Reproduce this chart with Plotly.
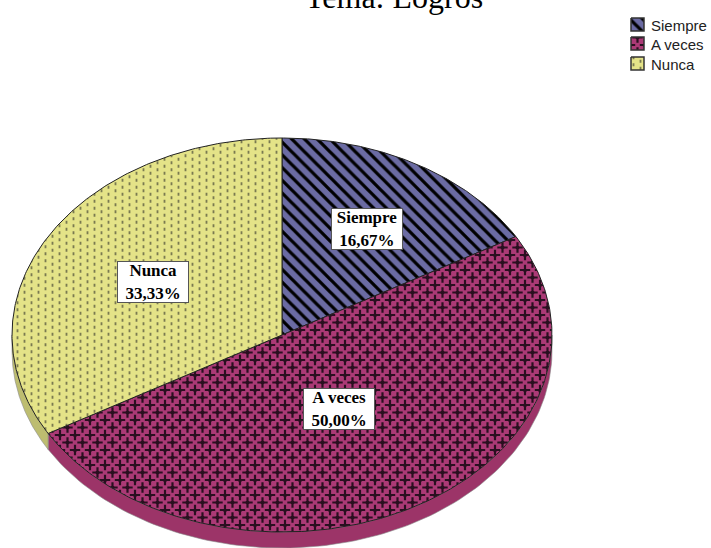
import numpy as np
import plotly.graph_objects as go

chart_title = "Tema: Logros"
categories = ["Siempre", "A veces", "Nunca"]
values = [16.67, 50.00, 33.33]
labels = ["16,67%", "50,00%", "33,33%"]
face_colors = ["#6b6ba3", "#ab3a76", "#e4e388"]
rim_colors = ["#55557f", "#9c3468", "#bdbd70"]


def star(cx, cy, arm=5.2, hw=1.1, d=3.0):
    return (f"M{cx-arm} {cy-hw}L{cx-hw} {cy-hw}L{cx-hw} {cy-arm}L{cx+hw} {cy-arm}L{cx+hw} {cy-hw}"
            f"L{cx+arm} {cy-hw}L{cx+arm} {cy+hw}L{cx+hw} {cy+hw}L{cx+hw} {cy+arm}L{cx-hw} {cy+arm}"
            f"L{cx-hw} {cy+hw}L{cx-arm} {cy+hw}Z"
            f"M{cx-d} {cy}L{cx} {cy-d}L{cx+d} {cy}L{cx} {cy+d}Z")


def dash(cx, cy, w=1.8, h=3.2):
    return f"M{cx-w/2} {cy-h/2}h{w}v{h}h{-w}Z"


star_path = "".join(star(a, b) for a, b in [(7.5, 7.5), (0, 0), (15, 0), (0, 15), (15, 15)])
dot_path = "".join(dash(a, b) for a, b in [(3.5, 1.75), (3.5, 8.75), (10.5, 5.25), (10.5, 12.25)])

CX, CY, RX, RY, DEPTH = 282, 335, 270, 197, 16
W, H = 711, 548

pattern_specs = [
    dict(shape="\\", size=9, solidity=0.36, fgcolor="#000000"),
    dict(path=star_path, size=15, fgcolor="#2a0f20"),
    dict(path=dot_path, size=14, fgcolor="#7a7a50"),
]


def point(theta):
    return CX + RX * np.sin(theta), CY - RY * np.cos(theta)


def pat(i):
    return dict(bgcolor=face_colors[i], fgopacity=1, fillmode="overlay", **pattern_specs[i])


fig = go.Figure()
total = sum(values)
edges = np.radians(np.cumsum([0] + values) / total * 360)

for i in range(3):
    a = max(edges[i], np.pi / 2)
    b = min(edges[i + 1], 3 * np.pi / 2)
    if b <= a:
        continue
    t = np.linspace(a, b, 120)
    x, y = point(t)
    fig.add_trace(go.Scatter(
        x=np.r_[x, x[::-1], x[0]], y=np.r_[y, y[::-1] + DEPTH, y[0]],
        mode="lines", fill="toself", fillcolor=rim_colors[i],
        line=dict(color="#8a8a8a", width=0.6), showlegend=False, hoverinfo="skip"))

for i, cat in enumerate(categories):
    t = np.linspace(edges[i], edges[i + 1], 200)
    x, y = point(t)
    fig.add_trace(go.Scatter(
        x=np.r_[CX, x, CX], y=np.r_[CY, y, CY], name=cat,
        mode="lines", fill="toself", fillcolor=face_colors[i], fillpattern=pat(i),
        line=dict(color="#222222", width=1), showlegend=False, hoverinfo="skip"))

label_pos = [(367, 229), (339, 409), (153, 282)]
for cat, lab, (lx, ly) in zip(categories, labels, label_pos):
    fig.add_annotation(x=lx, y=ly, text=f"<b>{cat}<br>{lab}</b>", showarrow=False,
                       font=dict(family="Liberation Serif", size=17, color="black"),
                       width=70, height=40, align="center", valign="middle",
                       bgcolor="white", bordercolor="#555555", borderwidth=1, borderpad=0)

key_y = [25, 44, 64]
for i, cat in enumerate(categories):
    fig.add_trace(go.Scatter(
        x=[631, 644, 644, 631, 631],
        y=[key_y[i] - 7, key_y[i] - 7, key_y[i] + 6, key_y[i] + 6, key_y[i] - 7],
        mode="lines", fill="toself", fillcolor=face_colors[i], fillpattern=pat(i),
        line=dict(color="#333333", width=1.5), showlegend=False, hoverinfo="skip"))
    fig.add_annotation(x=649, y=key_y[i], text=cat, showarrow=False, xanchor="left",
                       font=dict(family="Liberation Sans", size=15, color="#222222"))

fig.add_annotation(x=0.554, y=1.0055, xref="paper", yref="paper", text=chart_title,
                   showarrow=False, yanchor="middle",
                   font=dict(family="Liberation Serif", size=32, color="black"))

fig.update_layout(
    width=W, height=H, margin=dict(l=0, r=0, t=0, b=0),
    paper_bgcolor="white", plot_bgcolor="white", showlegend=False,
    xaxis=dict(range=[0, W], visible=False, fixedrange=True),
    yaxis=dict(range=[H, 0], visible=False, fixedrange=True),
)
fig.write_html(
    "out.html", default_width="711px", default_height="548px",
    config=dict(displayModeBar=False),
    post_script="document.body.style.margin='0';document.documentElement.style.margin='0';"
                "Plotly.Plots.resize(document.getElementById('{plot_id}'));",
)
